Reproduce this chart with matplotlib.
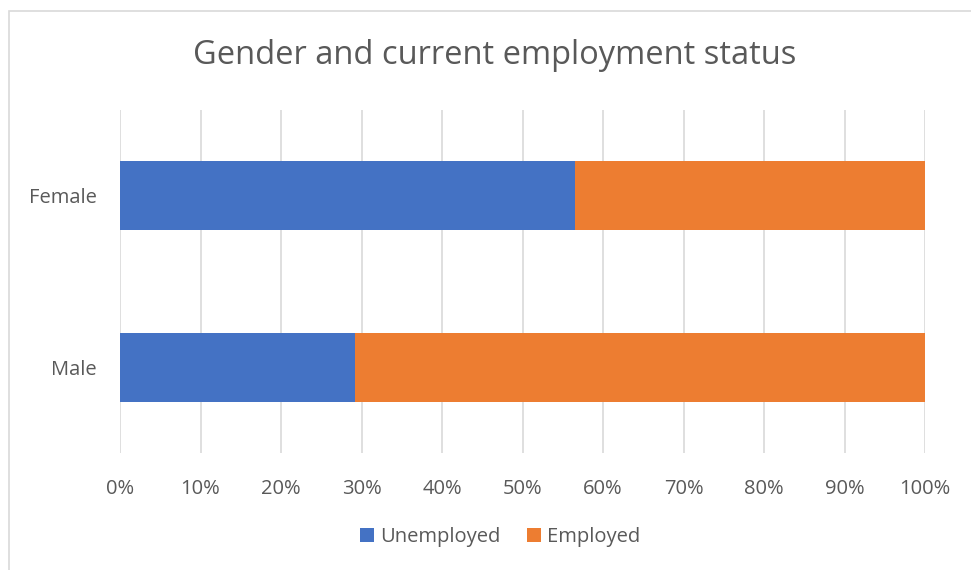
import matplotlib
matplotlib.use("Agg")
import matplotlib.pyplot as plt
from matplotlib.patches import Rectangle
from matplotlib.ticker import FuncFormatter

# Share of each gender by current employment status (%)
categories = ["Male", "Female"]
unemployed = [29.2, 56.5]
employed = [70.8, 43.5]
series_names = ["Unemployed", "Employed"]
x_ticks = [0, 10, 20, 30, 40, 50, 60, 70, 80, 90, 100]
title = "Gender and current employment status"

BLUE = "#4472C4"
ORANGE = "#ED7D31"
GRID = "#D9D9D9"
TEXT = "#595959"

plt.rcParams["font.family"] = ["Open Sans", "DejaVu Sans"]

W, H = 971, 570
fig = plt.figure(figsize=(W / 100, H / 100), dpi=100)

# chart area outline (cropped on the right and bottom)
fig.patches.append(Rectangle((9 / W, -0.05), 1.2, (H - 11) / H + 0.05,
                             transform=fig.transFigure, fill=False,
                             edgecolor="#D9D9D9", linewidth=1.2))

ax = fig.add_axes([120 / W, 1 - 453 / H, (925 - 120) / W, (453 - 110) / H])

y = list(range(len(categories)))
ax.barh(y, unemployed, height=0.4, color=BLUE, label=series_names[0], zorder=3)
ax.barh(y, employed, left=unemployed, height=0.4, color=ORANGE,
        label=series_names[1], zorder=3)

ax.set_xlim(0, 100)
ax.set_ylim(-0.5, 1.5)
ax.set_xticks(x_ticks)
ax.xaxis.set_major_formatter(FuncFormatter(lambda v, p: f"{v:.0f}%"))
ax.set_yticks(y)
ax.set_yticklabels(categories)
ax.grid(axis="x", color=GRID, linewidth=1.2, zorder=0)
for s in ax.spines.values():
    s.set_visible(False)
ax.tick_params(axis="both", length=0, labelsize=14.5, colors=TEXT)
ax.tick_params(axis="x", pad=19)
ax.tick_params(axis="y", pad=17)

fig.text(495 / W, 1 - 56 / H, title, ha="center", va="center",
         fontsize=23.5, color=TEXT)

leg = fig.legend(loc="center", bbox_to_anchor=(500 / W, 1 - 537 / H),
                 ncol=2, frameon=False, fontsize=14.5, handlelength=0.7,
                 handleheight=0.7, handletextpad=0.3, columnspacing=1.3)
for t in leg.get_texts():
    t.set_color(TEXT)

fig.savefig("out.png", dpi=100, facecolor="white")
